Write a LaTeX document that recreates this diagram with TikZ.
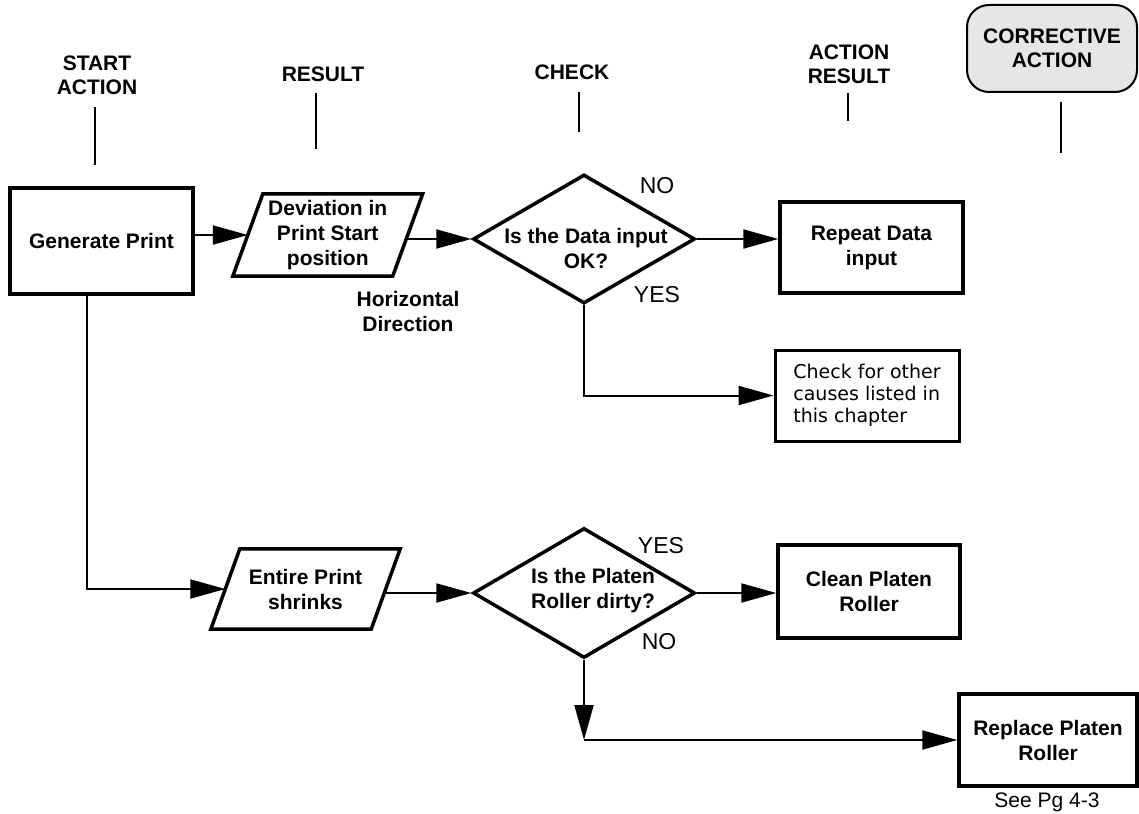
\documentclass[tikz,border=0pt]{standalone}
\usepackage{fontspec}
\setmainfont{Liberation Sans}
\newfontfamily\dejavu{DejaVu Sans}
\usetikzlibrary{shapes.geometric,arrows.meta}
\definecolor{cagray}{RGB}{230,230,230}
\begin{document}
\begin{tikzpicture}[x=1pt,y=-1pt,
  btext/.style={font=\fontsize{21}{25}\selectfont\bfseries, align=center, inner sep=0pt},
  htext/.style={font=\fontsize{21}{24}\selectfont\bfseries, align=center, inner sep=0pt},
  lbl/.style={font=\fontsize{23}{26}\selectfont, inner sep=0pt},
  box/.style={draw, line width=3.5pt, rectangle, inner sep=0pt, align=center, font=\fontsize{21}{25}\selectfont\bfseries},
  paranode/.style={rectangle, inner sep=0pt, align=center, font=\fontsize{21}{25}\selectfont\bfseries},
  paraline/.style={line width=3.5pt, line join=miter},
  dia/.style={diamond, draw, line width=3.5pt, inner sep=0pt},
  conn/.style={line width=2pt},
  arr/.style={line width=2pt, -{Triangle[length=35pt,width=19pt]}},
  hline/.style={line width=2pt},
]
\useasboundingbox (0,0) rectangle (1139,813);

% column headers
\node[htext] (hsa) at (97,75) {START\\ACTION};
\node[htext] (hres) at (323,74) {RESULT};
\node[htext] (hchk) at (572,72) {CHECK};
\node[htext] (hact) at (849,64) {ACTION\\RESULT};
\node[htext, draw, fill=cagray, line width=2pt, rounded corners=22pt,
      minimum width=170pt, minimum height=87pt] (hcor) at (1052,48.5) {CORRECTIVE\\ACTION};

\coordinate (l1a) at (95,107);  \coordinate (l1b) at (95,165);
\coordinate (l2a) at (316,93);  \coordinate (l2b) at (316,149);
\coordinate (l3a) at (579,92);  \coordinate (l3b) at (579,132);
\coordinate (l4a) at (848,93);  \coordinate (l4b) at (848,121);
\coordinate (l5a) at (1061,102); \coordinate (l5b) at (1061,153);
\draw[hline] (l1a) -- (l1b);
\draw[hline] (l2a) -- (l2b);
\draw[hline] (l3a) -- (l3b);
\draw[hline] (l4a) -- (l4b);
\draw[hline] (l5a) -- (l5b);

% first row
\node[box, minimum width=183pt, minimum height=106pt] (gen) at (101.5,241) {Generate Print};

\node[paranode, minimum width=159.5pt, minimum height=82pt] (p1) at (327.75,235) {Deviation in\\Print Start\\position};
\draw[paraline] ([xshift=-15pt]p1.south west) -- ([xshift=15pt]p1.north west)
   -- ([xshift=15pt]p1.north east) -- ([xshift=-15pt]p1.south east) -- cycle;

\node[paranode] (hd) at (408,311) {Horizontal\\Direction};

\node[dia, minimum width=222pt, minimum height=129pt] (d1) at (584,239) {};
\node[btext] (d1t) at (586,248) {Is the Data input\\OK?};
\node[lbl] (d1no) at (657,186) {NO};
\node[lbl] (d1yes) at (657,295) {YES};

\node[box, minimum width=183pt, minimum height=91pt] (rep) at (871.5,247.5) {Repeat Data\\input};

\node[box, line width=3pt, minimum width=184pt, minimum height=91pt,
      font=\dejavu\fontsize{19}{22}\selectfont, align=left] (chk) at (867,395.5)
      {Check for other\\causes listed in\\this chapter};

% second row
\node[paranode, minimum width=160pt, minimum height=80pt] (p2) at (305.5,589) {Entire Print\\shrinks};
\draw[paraline] ([xshift=-14.5pt]p2.south west) -- ([xshift=14.5pt]p2.north west)
   -- ([xshift=14.5pt]p2.north east) -- ([xshift=-14.5pt]p2.south east) -- cycle;

\node[dia, minimum width=222pt, minimum height=130pt] (d2) at (584,593) {};
\node[btext] (d2t) at (593,591) {Is the Platen\\Roller dirty?};
\node[lbl] (d2yes) at (661,546) {YES};
\node[lbl] (d2no) at (659,642) {NO};

\node[box, minimum width=182pt, minimum height=93pt] (cln) at (869,591.5) {Clean Platen\\Roller};
\node[box, minimum width=178pt, minimum height=92pt] (rpl) at (1048,740) {Replace Platen\\Roller};
\node[font=\fontsize{21}{25}\selectfont, inner sep=0pt, anchor=base] (see) at (1047,807) {See Pg 4-3};

% connectors
\draw[arr] (gen.east |- p1.west) -- (p1.west);
\draw[arr] (p1.east |- d1.west) -- (d1.west);
\draw[arr] (d1.east) -- (d1.east -| rep.west);
\draw[arr] (d1.south) |- (chk.west);
\draw[arr] ([xshift=-14.5pt]gen.south) |- (p2.west);
\draw[arr] (p2.east |- d2.west) -- (d2.west);
\draw[arr] (d2.east) -- (d2.east -| cln.west);
\coordinate (c2) at (d2.south |- rpl.west);
\draw[arr] (d2.south) -- (c2);
\draw[arr] (c2) -- (rpl.west);
\end{tikzpicture}
\end{document}
